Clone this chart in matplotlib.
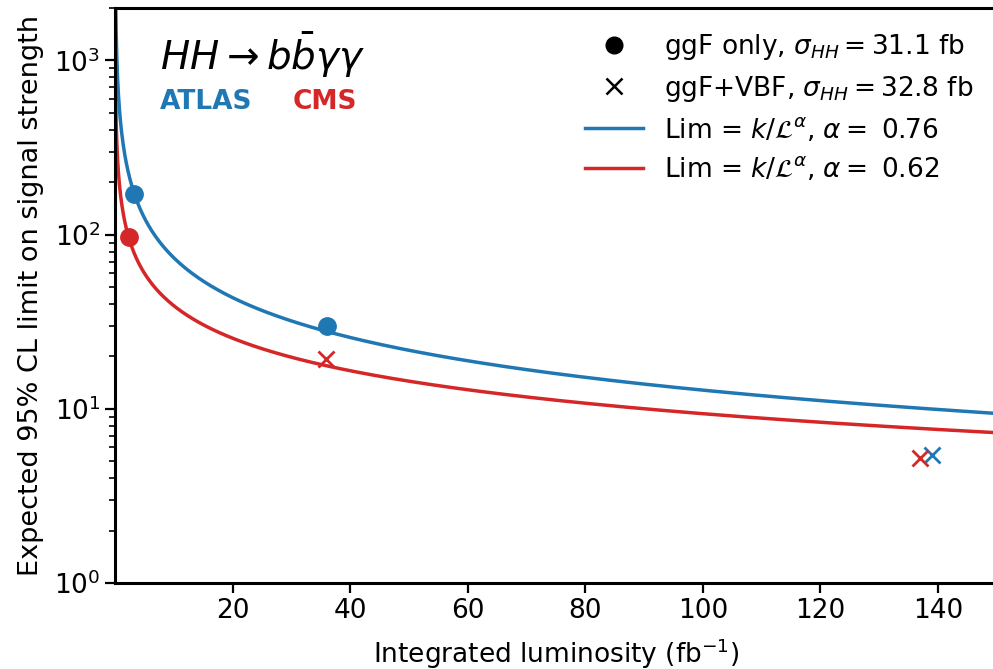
import numpy as np
import matplotlib
matplotlib.use('Agg')
import matplotlib.pyplot as plt

# measured points (luminosity in fb^-1, expected limit)
atlas_ggf_lumi = [3.2, 36.1]
atlas_ggf_lim = [172, 29.8]
atlas_vbf_lumi = [139]
atlas_vbf_lim = [5.45]

cms_ggf_lumi = [2.3]
cms_ggf_lim = [97]
cms_vbf_lumi = [35.9, 137]
cms_vbf_lim = [19.2, 5.25]

# fitted scaling Lim = k / L^alpha
atlas_k, atlas_alpha = 424.0, 0.76
cms_k, cms_alpha = 163.0, 0.62

BLUE = '#1f77b4'
RED = '#d62728'
FS = 19

lumi = np.linspace(0.05, 150, 3000)

fig = plt.figure(figsize=(9.93, 6.69), dpi=100)
ax = fig.add_axes([0.1158, 0.1285, 0.888, 0.8595])

ax.plot(lumi, atlas_k / lumi**atlas_alpha, color=BLUE, lw=2.5,
        label=r'Lim = $k/\mathcal{L}^{\alpha}$, $\alpha = $ %.2f' % atlas_alpha)
ax.plot(lumi, cms_k / lumi**cms_alpha, color=RED, lw=2.5,
        label=r'Lim = $k/\mathcal{L}^{\alpha}$, $\alpha = $ %.2f' % cms_alpha)

ax.plot(atlas_ggf_lumi, atlas_ggf_lim, 'o', color=BLUE, ms=12.5, zorder=5)
ax.plot(cms_ggf_lumi, cms_ggf_lim, 'o', color=RED, ms=12.5, zorder=5)
ax.plot(atlas_vbf_lumi, atlas_vbf_lim, 'x', color=BLUE, ms=12, mew=2, zorder=5)
ax.plot(cms_vbf_lumi, cms_vbf_lim, 'x', color=RED, ms=12, mew=2, zorder=5)

# black proxies for the legend
ax.plot([], [], 'o', color='black', ms=12,
        label=r'ggF only, $\sigma_{HH} = 31.1$ fb')
ax.plot([], [], 'x', color='black', ms=11, mew=1.8,
        label=r'ggF+VBF, $\sigma_{HH} = 32.8$ fb')

h, l = ax.get_legend_handles_labels()
order = [2, 3, 0, 1]
ax.legend([h[i] for i in order], [l[i] for i in order], loc='upper right',
          frameon=False, fontsize=FS, handlelength=2.2, borderaxespad=0.5,
          labelspacing=0.45)

ax.text(0.051, 0.918, r'$HH \rightarrow b\bar{b}\gamma\gamma$', transform=ax.transAxes,
        fontsize=28, va='center', ha='left')
ax.text(0.051, 0.837, 'ATLAS', color=BLUE, transform=ax.transAxes,
        fontsize=FS, fontweight='bold', va='center', ha='left')
ax.text(0.202, 0.837, 'CMS', color=RED, transform=ax.transAxes,
        fontsize=FS, fontweight='bold', va='center', ha='left')

ax.set_yscale('log')
ax.set_xlim(0, 150)
ax.set_ylim(1, 2000)
ax.set_xticks([20, 40, 60, 80, 100, 120, 140])
ax.tick_params(axis='both', which='major', labelsize=FS, length=7, width=1.6)
ax.tick_params(axis='both', which='minor', length=4, width=1.2)

ax.set_xlabel(r'Integrated luminosity (fb$^{-1}$)', fontsize=FS, labelpad=9)
ax.set_ylabel('Expected 95% CL limit on signal strength', fontsize=FS + 0.5,
              labelpad=7)

for s in ax.spines.values():
    s.set_linewidth(2.2)

fig.savefig('out.png', dpi=100)
plt.close()
